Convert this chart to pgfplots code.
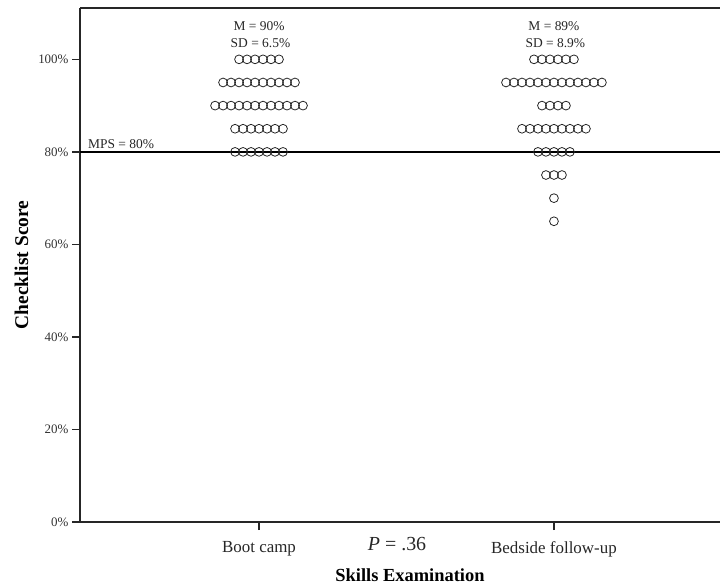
\documentclass[border=0pt]{standalone}
\usepackage{pgfplots}
\usepackage{pgfplotstable}
\pgfplotsset{compat=1.18}
\usepackage{fontspec}
\setmainfont{Liberation Serif}

% pos = rank of the dot within its row (for horizontal spreading), score in %
\pgfplotstableread{
pos score
-2.5 100
-1.5 100
-0.5 100
0.5 100
1.5 100
2.5 100
-4.5 95
-3.5 95
-2.5 95
-1.5 95
-0.5 95
0.5 95
1.5 95
2.5 95
3.5 95
4.5 95
-5.5 90
-4.5 90
-3.5 90
-2.5 90
-1.5 90
-0.5 90
0.5 90
1.5 90
2.5 90
3.5 90
4.5 90
5.5 90
-3 85
-2 85
-1 85
0 85
1 85
2 85
3 85
-3 80
-2 80
-1 80
0 80
1 80
2 80
3 80
}\bootcamp

\pgfplotstableread{
pos score
-2.5 100
-1.5 100
-0.5 100
0.5 100
1.5 100
2.5 100
-6 95
-5 95
-4 95
-3 95
-2 95
-1 95
0 95
1 95
2 95
3 95
4 95
5 95
6 95
-1.5 90
-0.5 90
0.5 90
1.5 90
-4 85
-3 85
-2 85
-1 85
0 85
1 85
2 85
3 85
4 85
-2 80
-1 80
0 80
1 80
2 80
-1 75
0 75
1 75
0 70
0 65
}\bedside

\begin{document}
\begin{tikzpicture}
\begin{axis}[
  at={(0,0)}, anchor=south west,
  scale only axis, width=640bp, height=514bp,
  xmin=0.393, xmax=2.563, ymin=0, ymax=111.1,
  axis x line=bottom, axis y line=left,
  axis line style={-, line width=1.3bp, color=black!85},
  xtick={1,2}, xticklabels={Boot camp, Bedside follow-up},
  ytick={0,20,40,60,80,100},
  yticklabel={\pgfmathprintnumber[assume math mode=true]{\tick}\%},
  tick align=outside, major tick length=8bp,
  every tick/.style={line width=1.6bp, color=black!85},
  yticklabel style={font=\fontsize{13}{15}\selectfont, text=black!80},
  xticklabel style={font=\fontsize{17}{19}\selectfont, text=black!85, yshift=-8bp},
  xlabel={Skills Examination},
  ylabel={Checklist Score},
  xlabel style={font=\bfseries\fontsize{18.5}{21}\selectfont, xshift=10bp, yshift=-5bp},
  ylabel style={font=\bfseries\fontsize{19.5}{22}\selectfont, yshift=3bp},
  clip=false,
]
\addplot[only marks, mark=o, mark size=4.4bp, mark options={line width=0.8bp, draw=black!85}]
  table[x expr={1+0.0271*\thisrow{pos}}, y=score] {\bootcamp};
\addplot[only marks, mark=o, mark size=4.4bp, mark options={line width=0.8bp, draw=black!85}]
  table[x expr={2+0.0271*\thisrow{pos}}, y=score] {\bedside};
\addplot[line width=1.6bp, black, no marks] coordinates {(0.393,80) (2.563,80)};
\draw[line width=1.3bp, black!85] (rel axis cs:0,1) -- (rel axis cs:1,1);
\node[font=\fontsize{13.5}{15}\selectfont, text=black!85] at (axis cs:1,107.2) {M = 90\%};
\node[font=\fontsize{13.5}{15}\selectfont, text=black!85] at (axis cs:1.005,103.6) {SD = 6.5\%};
\node[font=\fontsize{13.5}{15}\selectfont, text=black!85] at (axis cs:2,107.2) {M = 89\%};
\node[font=\fontsize{13.5}{15}\selectfont, text=black!85] at (axis cs:2.005,103.6) {SD = 8.9\%};
\node[font=\fontsize{13.5}{15}\selectfont, text=black!85, anchor=base west, inner sep=0pt] at (axis cs:0.42,80.8) {MPS = 80\%};
\node[font=\fontsize{20}{22}\selectfont, text=black!85] at (axis cs:1.468,0) [yshift=-22bp] {\textit{P} = .36};
\end{axis}
\pgfresetboundingbox
\useasboundingbox (-80bp,-66bp) rectangle (641bp,522bp);
\end{tikzpicture}
\end{document}
